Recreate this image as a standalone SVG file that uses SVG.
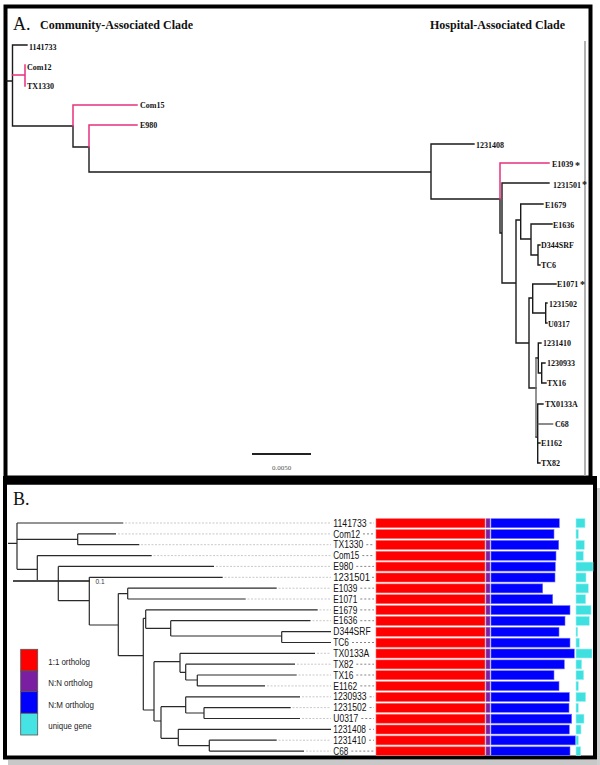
<svg xmlns="http://www.w3.org/2000/svg" width="600" height="765" viewBox="0 0 600 765">
<style>
.frame{fill:none;stroke:#000;stroke-width:4}
.tk{fill:none;stroke:#1a1a1a;stroke-width:1.4;stroke-linecap:square}
.tg{fill:none;stroke:#666;stroke-width:1.4}
.pk{fill:none;stroke:#e6307e;stroke-width:1.5;stroke-linecap:square}
.tb{fill:none;stroke:#2a2a2a;stroke-width:1.2}
.lead{fill:none;stroke:#bbb;stroke-width:0.8;stroke-dasharray:2 1.5}
.lead2{fill:none;stroke:#777;stroke-width:0.9;stroke-dasharray:2 2}
.ta{font-family:"Liberation Serif",serif;font-weight:bold;font-size:8px;fill:#111}
.star{font-family:"Liberation Serif",serif;font-weight:bold;font-size:10px;fill:#111}
.title{font-family:"Liberation Serif",serif;font-weight:bold;font-size:12px;fill:#111}
.big{font-family:"Liberation Serif",serif;font-size:18px;fill:#111}
.lb{font-family:"Liberation Sans",sans-serif;font-size:10px;fill:#111}
.lg{font-family:"Liberation Sans",sans-serif;font-size:9.5px;fill:#222}
.red{fill:#ff0000;stroke:#ff7070;stroke-width:0.6}
.pur{fill:#7b1fa2;stroke:#a070c0;stroke-width:0.6}
.blu{fill:#0000ff;stroke:#7070ff;stroke-width:0.6}
.cya{fill:#40e0e0;stroke:#a0f4f4;stroke-width:0.6}
</style>
<rect width="600" height="765" fill="#fff"/>

<!-- Panel A -->
<g id="panelA">
<rect class="frame" x="5.5" y="6.5" width="585" height="471"/>
<line x1="585" y1="41" x2="585" y2="476" stroke="#999" stroke-width="1.5"/>
<text class="big" x="13" y="29.5">A.</text>
<text class="title" x="40" y="28.5">Community-Associated Clade</text>
<text class="title" x="430" y="28.5">Hospital-Associated Clade</text>
<g id="scaleA">
<line x1="252" y1="454" x2="311" y2="454" stroke="#222" stroke-width="2"/>
<text x="281.5" y="470" text-anchor="middle" font-family="Liberation Serif, serif" font-size="7" fill="#555">0.0050</text>
</g>
</g>

<g id="connectorsA">
<path class="tk" d="M7,81 H12.5 M12.5,45 V126 M12.5,45 H27 M12.5,126 H73 M73,126 V147 M73,147 H89 M89,147 V172 M89,172 H431 M431,144 V199 M431,144 H474 M431,199 H500 M500,199 V233 H502 M502,183 V283 M502,183 H549 M502,283 H516 M516,220 V343 M516,220 H520.7 M520.7,204 V239 M520.7,204 H543 M520.7,239 H531 M531,224 V255 M531,224 H552 M531,255 H538 M538,245 V265 M538,245 H540 M538,265 H540 M516,343 H529 M529,298 V388 M529,298 H532.7 M532.7,284 V313 M532.7,284 H556 M532.7,313 H545.7 M545.7,303 V323 M545.7,303 H547 M545.7,323 H547 M529,388 H536 M536,358 H538.3 M538.3,343 V373 M538.3,343 H541 M538.3,373 H541.7 M541.7,363 V383 M541.7,363 H545 M541.7,383 H546 M536,437 H537.7 M537.7,404 V463 M537.7,404 H543 M537.7,443 H540 M537.7,463 H540"/>
<path class="tg" d="M536,358 V437 M537.7,424 H553.3"/>
<path class="pk" d="M12.5,75 H25 M25,65 V86 M73,126 V105 H137 M89,147 V125 H137 M500,199 V163 H549"/>
</g>

<g id="leavesA">
<text class="ta" x="29" y="50">1141733</text>
<text class="ta" x="27" y="69.5">Com12</text>
<text class="ta" x="27" y="89">TX1330</text>
<text class="ta" x="140" y="108">Com15</text>
<text class="ta" x="140" y="128">E980</text>
<text class="ta" x="476" y="148">1231408</text>
<text class="ta" x="552" y="167">E1039</text><text class="star" x="575" y="168.5">*</text>
<text class="ta" x="553" y="188">1231501</text><text class="star" x="582" y="188">*</text>
<text class="ta" x="545" y="208">E1679</text>
<text class="ta" x="553" y="228">E1636</text>
<text class="ta" x="541" y="248">D344SRF</text>
<text class="ta" x="541" y="268">TC6</text>
<text class="ta" x="557" y="287">E1071</text><text class="star" x="580" y="288">*</text>
<text class="ta" x="549" y="307">1231502</text>
<text class="ta" x="548" y="327">U0317</text>
<text class="ta" x="543" y="346">1231410</text>
<text class="ta" x="547" y="366">1230933</text>
<text class="ta" x="547" y="386">TX16</text>
<text class="ta" x="545" y="407">TX0133A</text>
<text class="ta" x="555" y="427">C68</text>
<text class="ta" x="541" y="446">E1162</text>
<text class="ta" x="541" y="466">TX82</text>
</g>

<!-- Panel B -->
<g id="panelB">
<rect x="8" y="760" width="592" height="5" fill="#c8c8c8"/>
<rect x="597" y="488" width="3" height="277" fill="#cfcfcf"/>
<rect x="3" y="476" width="594" height="8.5" fill="#000"/>
<rect class="frame" x="5" y="482.5" width="590" height="275" stroke-width="4.5"/>
<text class="big" x="13" y="505">B.</text>
<g id="scaleB">
<line x1="13" y1="581" x2="90" y2="581" stroke="#111" stroke-width="1.6"/>
<text x="95.5" y="584" font-family="Liberation Sans, sans-serif" font-size="6.5" fill="#333">0.1</text>
</g>
</g>

<g id="connectorsB">
<path class="tb" d="M8,543.3 H17 M17,523 V569.3 M17,523 H123.3 M17,539.3 H77.7 M77.7,533.9 V544.7 M77.7,533.9 H116 M77.7,544.7 H139.3 M17,569.3 H37.3 M37.3,555.6 V580 M37.3,555.6 H151.7 M58.3,566.4 V600.7 M58.3,566.4 H214 M58.3,600.7 H89.3 M89.3,577.3 V625 M89.3,577.3 H222.7 M89.3,625 H118.3 M118.3,593.6 V655.7 M118.3,593.6 H127.7 M127.7,588.2 V599 M127.7,588.2 H276.7 M127.7,599 H245.7 M118.3,655.7 H143.3 M143.3,618.3 V710 M143.3,618.3 H145.7 M145.7,609.9 V628.3 M145.7,609.9 H317.7 M145.7,628.3 H170.7 M170.7,620.7 V636 M170.7,620.7 H310.5 M170.7,636 H281.7 M281.7,631.6 V642.5 M281.7,631.6 H331 M281.7,642.5 H331 M143.3,710 H154 M154,661.7 V721 M154,661.7 H180 M180,653.3 V672.3 M180,653.3 H315 M180,672.3 H185.7 M185.7,664.2 V680 M185.7,664.2 H295 M185.7,680 H197.3 M197.3,675 V685.9 M197.3,675 H296.7 M197.3,685.9 H265 M154,721 H161 M161,706.7 V738.3 M161,706.7 H185.7 M185.7,696.8 V713 M185.7,696.8 H300 M185.7,713 H204 M204,707.6 V718.5 M204,707.6 H290.7 M204,718.5 H300 M161,738.3 H178.3 M178.3,729.3 V745.6 M178.3,729.3 H331 M178.3,745.6 H209.3 M209.3,740.2 V751.1 M209.3,740.2 H276.7 M209.3,751.1 H304"/>
<path class="lead" d="M125,523 H331 M118,533.9 H331 M141,544.7 H331 M153.5,555.6 H331 M216,566.4 H331 M224.5,577.3 H331 M278.5,588.2 H331 M247.5,599 H331 M319.5,609.9 H331 M312.5,620.7 H331 M317,653.3 H331 M297,664.2 H331 M298.5,675 H331 M267,685.9 H331 M302,696.8 H331 M292.5,707.6 H331 M302,718.5 H331 M278.5,740.2 H331 M306,751.1 H331"/>
<path class="lead2" d="M369.6,523 H374 M363,533.9 H374 M366.3,544.7 H374 M362.3,555.6 H374 M356.3,566.4 H374 M372,577.3 H374 M360.3,588.2 H374 M360.3,599 H374 M360.3,609.9 H374 M360.3,620.7 H374 M352,642.5 H374 M356.3,664.2 H374 M356.3,675 H374 M360.3,685.9 H374 M369.6,696.8 H374 M369.6,707.6 H374 M361.3,718.5 H374 M369,729.3 H374 M369,740.2 H374 M351.3,751.1 H374"/>
</g>

<g id="leavesB">
<text class="lb" x="333.3" y="526.6" textLength="33.3" lengthAdjust="spacingAndGlyphs">1141733</text>
<text class="lb" x="333.3" y="537.5" textLength="26.7" lengthAdjust="spacingAndGlyphs">Com12</text>
<text class="lb" x="333.3" y="548.3" textLength="30" lengthAdjust="spacingAndGlyphs">TX1330</text>
<text class="lb" x="333.3" y="559.2" textLength="26" lengthAdjust="spacingAndGlyphs">Com15</text>
<text class="lb" x="333.3" y="570" textLength="20" lengthAdjust="spacingAndGlyphs">E980</text>
<text class="lb" x="333.3" y="580.9" textLength="36.7" lengthAdjust="spacingAndGlyphs">1231501</text>
<text class="lb" x="333.3" y="591.8" textLength="24" lengthAdjust="spacingAndGlyphs">E1039</text>
<text class="lb" x="333.3" y="602.6" textLength="24" lengthAdjust="spacingAndGlyphs">E1071</text>
<text class="lb" x="333.3" y="613.5" textLength="24" lengthAdjust="spacingAndGlyphs">E1679</text>
<text class="lb" x="333.3" y="624.3" textLength="24" lengthAdjust="spacingAndGlyphs">E1636</text>
<text class="lb" x="333.3" y="635.2" textLength="37.3" lengthAdjust="spacingAndGlyphs">D344SRF</text>
<text class="lb" x="333.3" y="646.1" textLength="15.7" lengthAdjust="spacingAndGlyphs">TC6</text>
<text class="lb" x="333.3" y="656.9" textLength="36" lengthAdjust="spacingAndGlyphs">TX0133A</text>
<text class="lb" x="333.3" y="667.8" textLength="20" lengthAdjust="spacingAndGlyphs">TX82</text>
<text class="lb" x="333.3" y="678.6" textLength="20" lengthAdjust="spacingAndGlyphs">TX16</text>
<text class="lb" x="333.3" y="689.5" textLength="24" lengthAdjust="spacingAndGlyphs">E1162</text>
<text class="lb" x="333.3" y="700.4" textLength="33.3" lengthAdjust="spacingAndGlyphs">1230933</text>
<text class="lb" x="333.3" y="711.2" textLength="33.3" lengthAdjust="spacingAndGlyphs">1231502</text>
<text class="lb" x="333.3" y="722.1" textLength="25" lengthAdjust="spacingAndGlyphs">U0317</text>
<text class="lb" x="333.3" y="732.9" textLength="32.7" lengthAdjust="spacingAndGlyphs">1231408</text>
<text class="lb" x="333.3" y="743.8" textLength="32.7" lengthAdjust="spacingAndGlyphs">1231410</text>
<text class="lb" x="333.3" y="754.7" textLength="15" lengthAdjust="spacingAndGlyphs">C68</text>
</g>

<g id="bars">
<g class="red-bars">
<rect class="red" x="376" y="518.7" width="109" height="9"/>
<rect class="red" x="376" y="529.6" width="109" height="9"/>
<rect class="red" x="376" y="540.4" width="109" height="9"/>
<rect class="red" x="376" y="551.3" width="109" height="9"/>
<rect class="red" x="376" y="562.1" width="109" height="9"/>
<rect class="red" x="376" y="573" width="109" height="9"/>
<rect class="red" x="376" y="583.9" width="109" height="9"/>
<rect class="red" x="376" y="594.7" width="109" height="9"/>
<rect class="red" x="376" y="605.6" width="109" height="9"/>
<rect class="red" x="376" y="616.4" width="109" height="9"/>
<rect class="red" x="376" y="627.3" width="109" height="9"/>
<rect class="red" x="376" y="638.2" width="109" height="9"/>
<rect class="red" x="376" y="649" width="109" height="9"/>
<rect class="red" x="376" y="659.9" width="109" height="9"/>
<rect class="red" x="376" y="670.7" width="109" height="9"/>
<rect class="red" x="376" y="681.6" width="109" height="9"/>
<rect class="red" x="376" y="692.5" width="109" height="9"/>
<rect class="red" x="376" y="703.3" width="109" height="9"/>
<rect class="red" x="376" y="714.2" width="109" height="9"/>
<rect class="red" x="376" y="725" width="109" height="9"/>
<rect class="red" x="376" y="735.9" width="109" height="9"/>
<rect class="red" x="376" y="746.8" width="109" height="8.5"/>
</g>
<g class="pur-bars">
<rect class="pur" x="486" y="518.7" width="4" height="9"/>
<rect class="pur" x="486" y="529.6" width="4" height="9"/>
<rect class="pur" x="486" y="540.4" width="4" height="9"/>
<rect class="pur" x="486" y="551.3" width="4" height="9"/>
<rect class="pur" x="486" y="562.1" width="4" height="9"/>
<rect class="pur" x="486" y="573" width="4" height="9"/>
<rect class="pur" x="486" y="583.9" width="4" height="9"/>
<rect class="pur" x="486" y="594.7" width="4" height="9"/>
<rect class="pur" x="486" y="605.6" width="4" height="9"/>
<rect class="pur" x="486" y="616.4" width="4" height="9"/>
<rect class="pur" x="486" y="627.3" width="4" height="9"/>
<rect class="pur" x="486" y="638.2" width="4" height="9"/>
<rect class="pur" x="486" y="649" width="4" height="9"/>
<rect class="pur" x="486" y="659.9" width="4" height="9"/>
<rect class="pur" x="486" y="670.7" width="4" height="9"/>
<rect class="pur" x="486" y="681.6" width="4" height="9"/>
<rect class="pur" x="486" y="692.5" width="4" height="9"/>
<rect class="pur" x="486" y="703.3" width="4" height="9"/>
<rect class="pur" x="486" y="714.2" width="4" height="9"/>
<rect class="pur" x="486" y="725" width="4" height="9"/>
<rect class="pur" x="486" y="735.9" width="4" height="9"/>
<rect class="pur" x="486" y="746.8" width="4" height="8.5"/>
</g>
<g class="blu-bars">
<rect class="blu" x="491" y="518.7" width="68.3" height="9"/>
<rect class="blu" x="491" y="529.6" width="63" height="9"/>
<rect class="blu" x="491" y="540.4" width="67.7" height="9"/>
<rect class="blu" x="491" y="551.3" width="65" height="9"/>
<rect class="blu" x="491" y="562.1" width="64.3" height="9"/>
<rect class="blu" x="491" y="573" width="64" height="9"/>
<rect class="blu" x="491" y="583.9" width="51.7" height="9"/>
<rect class="blu" x="491" y="594.7" width="61.7" height="9"/>
<rect class="blu" x="491" y="605.6" width="79" height="9"/>
<rect class="blu" x="491" y="616.4" width="74" height="9"/>
<rect class="blu" x="491" y="627.3" width="68" height="9"/>
<rect class="blu" x="491" y="638.2" width="79" height="9"/>
<rect class="blu" x="491" y="649" width="83.3" height="9"/>
<rect class="blu" x="491" y="659.9" width="73.3" height="9"/>
<rect class="blu" x="491" y="670.7" width="63" height="9"/>
<rect class="blu" x="491" y="681.6" width="68" height="9"/>
<rect class="blu" x="491" y="692.5" width="78.3" height="9"/>
<rect class="blu" x="491" y="703.3" width="78" height="9"/>
<rect class="blu" x="491" y="714.2" width="80.7" height="9"/>
<rect class="blu" x="491" y="725" width="78.3" height="9"/>
<rect class="blu" x="491" y="735.9" width="84.7" height="9"/>
<rect class="blu" x="491" y="746.8" width="79" height="8.5"/>
</g>
<g class="cya-bars">
<rect class="cya" x="576" y="518.7" width="9" height="9"/>
<rect class="cya" x="576" y="529.6" width="2.3" height="9"/>
<rect class="cya" x="576" y="540.4" width="8.3" height="9"/>
<rect class="cya" x="576" y="551.3" width="7.3" height="9"/>
<rect class="cya" x="576" y="562.1" width="17" height="9"/>
<rect class="cya" x="576" y="573" width="10" height="9"/>
<rect class="cya" x="576" y="583.9" width="12.3" height="9"/>
<rect class="cya" x="576" y="594.7" width="9.7" height="9"/>
<rect class="cya" x="576" y="605.6" width="15" height="9"/>
<rect class="cya" x="576" y="616.4" width="13.3" height="9"/>
<rect class="cya" x="576" y="627.3" width="1.7" height="9"/>
<rect class="cya" x="576" y="638.2" width="3.3" height="9"/>
<rect class="cya" x="576" y="649" width="16" height="9"/>
<rect class="cya" x="576" y="659.9" width="5.7" height="9"/>
<rect class="cya" x="576" y="670.7" width="7.7" height="9"/>
<rect class="cya" x="576" y="681.6" width="2.3" height="9"/>
<rect class="cya" x="576" y="692.5" width="9.7" height="9"/>
<rect class="cya" x="576" y="703.3" width="2.3" height="9"/>
<rect class="cya" x="576" y="714.2" width="8" height="9"/>
<rect class="cya" x="576" y="725" width="5" height="9"/>
<rect class="cya" x="576" y="735.9" width="2.3" height="9"/>
<rect class="cya" x="576" y="746.8" width="4.7" height="8.5"/>
</g>
</g>

<g id="legend">
<rect x="20.7" y="649.3" width="17" height="21.7" fill="#ff0000" stroke="#555" stroke-width="0.8"/>
<rect x="20.7" y="671" width="17" height="20.7" fill="#7b1fa2" stroke="#555" stroke-width="0.8"/>
<rect x="20.7" y="691.7" width="17" height="21.6" fill="#0000ff" stroke="#555" stroke-width="0.8"/>
<rect x="20.7" y="713.3" width="17" height="21.7" fill="#45e3e3" stroke="#555" stroke-width="0.8"/>
<text class="lg" x="48.3" y="665" textLength="41.7" lengthAdjust="spacingAndGlyphs">1:1 ortholog</text>
<text class="lg" x="48.3" y="686" textLength="44.3" lengthAdjust="spacingAndGlyphs">N:N ortholog</text>
<text class="lg" x="48.3" y="708.3" textLength="45.7" lengthAdjust="spacingAndGlyphs">N:M ortholog</text>
<text class="lg" x="48.3" y="729.3" textLength="43.3" lengthAdjust="spacingAndGlyphs">unique gene</text>
</g>
</svg>
